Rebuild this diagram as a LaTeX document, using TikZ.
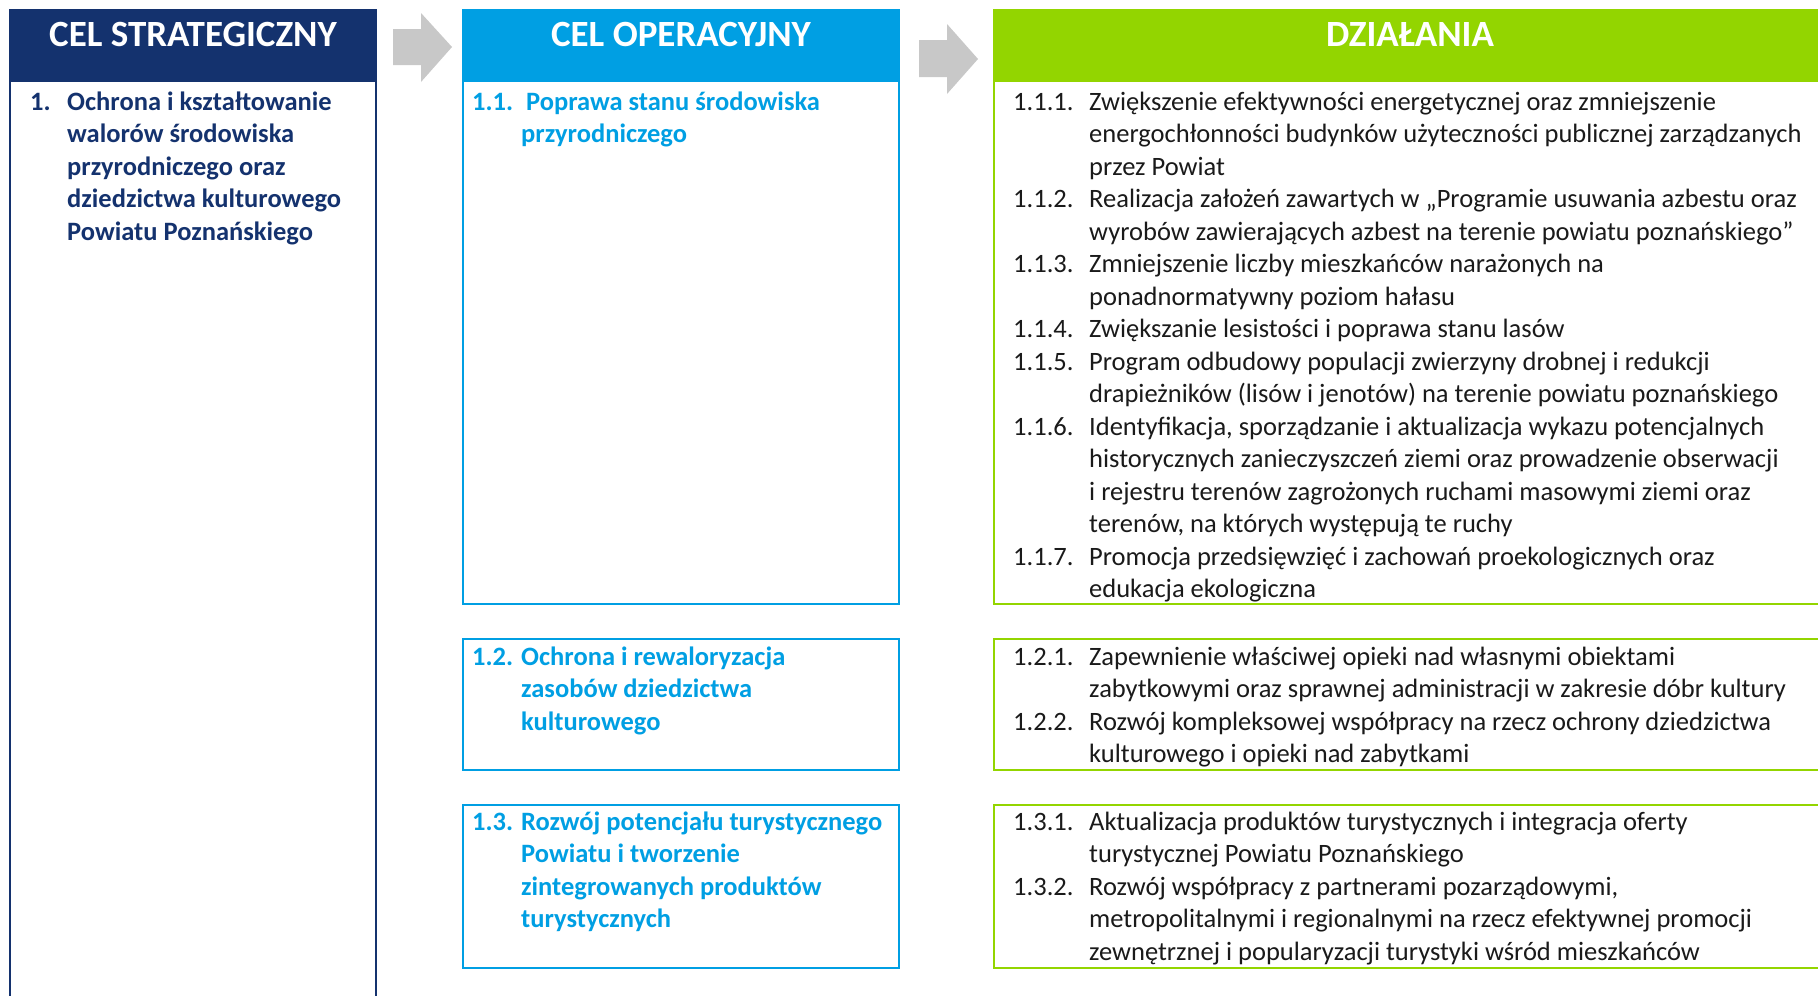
\documentclass[tikz,border=0pt]{standalone}
\usepackage{fontspec}
\setmainfont{Carlito}
\definecolor{navy}{HTML}{14326E}
\definecolor{cyanb}{HTML}{009FE3}
\definecolor{lime}{HTML}{93D500}
\definecolor{arrowgray}{HTML}{C8C8C8}
\definecolor{bodytxt}{HTML}{1A1A1A}
\newcommand\gtab[1]{\begin{tabular}[t]{@{}p{76pt}@{}l@{}}#1\end{tabular}}
\newcommand\btab[1]{\begin{tabular}[t]{@{}p{49pt}@{}l@{}}#1\end{tabular}}
\newcommand\stab[1]{\begin{tabular}[t]{@{}p{37pt}@{}l@{}}#1\end{tabular}}
\begin{document}
\begin{tikzpicture}[x=1pt,y=-1pt,
  hdrtxt/.style={anchor=base,inner sep=0,text=white,font=\fontsize{37}{44}\selectfont\bfseries},
  sbox/.style={draw=navy,line width=2pt,fill=none},
  bbox/.style={draw=cyanb,line width=2pt,fill=none},
  gbox/.style={draw=lime,line width=2pt,fill=none},
  stxt/.style={anchor=base west,inner sep=0,text=navy,font=\fontsize{26.5}{32.5}\selectfont\bfseries},
  btxt/.style={anchor=base west,inner sep=0,text=cyanb,font=\fontsize{26.5}{32.5}\selectfont\bfseries},
  gtxt/.style={anchor=base west,inner sep=0,text=bodytxt,font=\fontsize{26.5}{32.5}\selectfont},
  blockarrow/.style={fill=arrowgray,draw=none}]
\useasboundingbox (0,0) rectangle (1818,996);
\clip (0,0) rectangle (1818,996);
\fill[white] (0,0) rectangle (1818,996);

% bodies
\draw[sbox] (10,81) rectangle (376,1010);
\draw[bbox] (463,81) rectangle (899,604);
\draw[bbox] (463,639) rectangle (899,770);
\draw[bbox] (463,805) rectangle (899,968);
\draw[gbox] (994,81) rectangle (1830,604);
\draw[gbox] (994,639) rectangle (1830,770);
\draw[gbox] (994,805) rectangle (1830,968);

% headers
\fill[navy] (9,9) rectangle (377,82);
\fill[cyanb] (462,9) rectangle (900,82);
\fill[lime] (993,9) rectangle (1830,82);
\node[hdrtxt] (hs) at (193,46) {CEL STRATEGICZNY};
\node[hdrtxt] (ho) at (681,46) {CEL OPERACYJNY};
\node[hdrtxt] (hd) at (1410,46) {DZIAŁANIA};

% arrows
\fill[blockarrow] (393,29) -- (421,29) -- (421,13) -- (452,47) -- (421,82) -- (421,65) -- (393,65) -- cycle;
\fill[blockarrow] (919,40) -- (947,40) -- (947,24) -- (978,59) -- (947,94) -- (947,77) -- (919,77) -- cycle;

% strategic
\node[stxt] (s1) at (30,110) {\stab{1. & Ochrona i kształtowanie\\
 & walorów środowiska\\
 & przyrodniczego oraz\\
 & dziedzictwa kulturowego\\
 & Powiatu Poznańskiego}};

% operational
\node[btxt] (o11) at (472,110) {\btab{1.1. & \hspace*{5pt}Poprawa stanu środowiska\\
 & przyrodniczego}};
\node[btxt] (o12) at (472,665) {\btab{1.2. & Ochrona i rewaloryzacja\\
 & zasobów dziedzictwa\\
 & kulturowego}};
\node[btxt] (o13) at (472,830) {\btab{1.3. & Rozwój potencjału turystycznego\\
 & Powiatu i tworzenie\\
 & zintegrowanych produktów\\
 & turystycznych}};

% actions
\node[gtxt] (d11) at (1013,110) {\gtab{1.1.1. & Zwiększenie efektywności energetycznej oraz zmniejszenie\\
 & energochłonności budynków użyteczności publicznej zarządzanych\\
 & przez Powiat\\
1.1.2. & Realizacja założeń zawartych w „Programie usuwania azbestu oraz\\
 & wyrobów zawierających azbest na terenie powiatu poznańskiego”\\
1.1.3. & Zmniejszenie liczby mieszkańców narażonych na\\
 & ponadnormatywny poziom hałasu\\
1.1.4. & Zwiększanie lesistości i poprawa stanu lasów\\
1.1.5. & Program odbudowy populacji zwierzyny drobnej i redukcji\\
 & drapieżników (lisów i jenotów) na terenie powiatu poznańskiego\\
1.1.6. & Identyfikacja, sporządzanie i aktualizacja wykazu potencjalnych\\
 & historycznych zanieczyszczeń ziemi oraz prowadzenie obserwacji\\
 & i rejestru terenów zagrożonych ruchami masowymi ziemi oraz\\
 & terenów, na których występują te ruchy\\
1.1.7. & Promocja przedsięwzięć i zachowań proekologicznych oraz\\
 & edukacja ekologiczna}};
\node[gtxt] (d12) at (1013,665) {\gtab{1.2.1. & Zapewnienie właściwej opieki nad własnymi obiektami\\
 & zabytkowymi oraz sprawnej administracji w zakresie dóbr kultury\\
1.2.2. & Rozwój kompleksowej współpracy na rzecz ochrony dziedzictwa\\
 & kulturowego i opieki nad zabytkami}};
\node[gtxt] (d13) at (1013,830) {\gtab{1.3.1. & Aktualizacja produktów turystycznych i integracja oferty\\
 & turystycznej Powiatu Poznańskiego\\
1.3.2. & Rozwój współpracy z partnerami pozarządowymi,\\
 & metropolitalnymi i regionalnymi na rzecz efektywnej promocji\\
 & zewnętrznej i popularyzacji turystyki wśród mieszkańców}};
\end{tikzpicture}
\end{document}
